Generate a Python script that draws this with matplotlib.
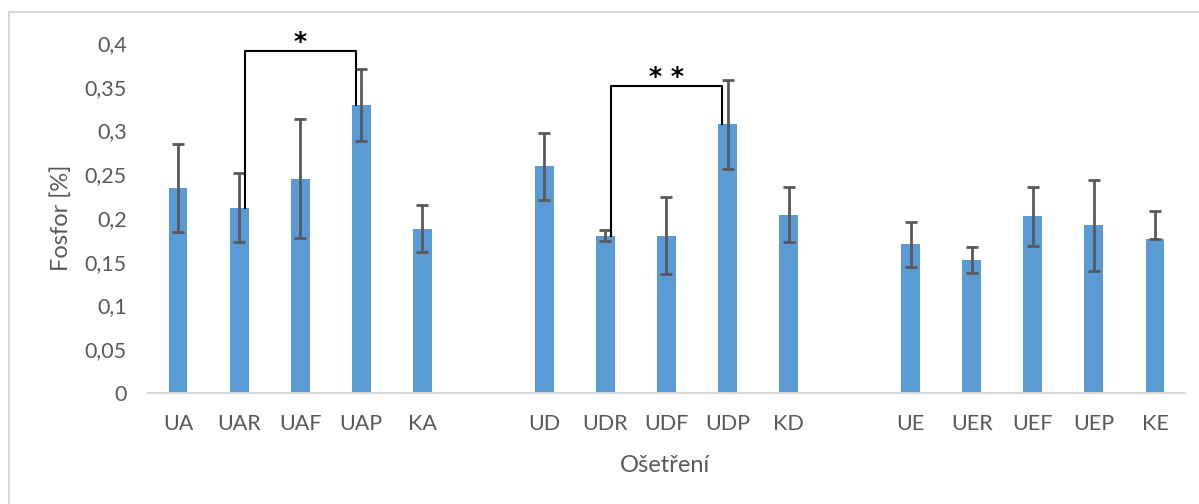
import numpy as np
import matplotlib
matplotlib.use("Agg")
import matplotlib.pyplot as plt
from matplotlib.lines import Line2D

plt.rcParams['font.family'] = ['Lato', 'DejaVu Sans']

# Data (three groups of five treatments)
groups = [
    ["UA", "UAR", "UAF", "UAP", "KA"],
    ["UD", "UDR", "UDF", "UDP", "KD"],
    ["UE", "UER", "UEF", "UEP", "KE"],
]
values = [
    [0.234, 0.212, 0.245, 0.329, 0.188],
    [0.259, 0.180, 0.180, 0.307, 0.204],
    [0.170, 0.152, 0.202, 0.192, 0.176],
]
err_low = [
    [0.050, 0.039, 0.068, 0.041, 0.027],
    [0.038, 0.006, 0.044, 0.051, 0.031],
    [0.026, 0.015, 0.034, 0.052, 0.000],
]
err_high = [
    [0.050, 0.039, 0.068, 0.041, 0.027],
    [0.038, 0.006, 0.044, 0.051, 0.031],
    [0.026, 0.015, 0.034, 0.052, 0.032],
]
# significance brackets: (left, right, label, bracket height)
brackets = [("UAR", "UAP", "*", 0.391), ("UDR", "UDP", "* *", 0.351)]

# flatten with one empty slot between groups
labels, vals, lo, hi, xs = [], [], [], [], []
pos = 0
for g, v, l, h in zip(groups, values, err_low, err_high):
    for name, a, b, c in zip(g, v, l, h):
        labels.append(name); vals.append(a); lo.append(b); hi.append(c); xs.append(pos)
        pos += 1
    pos += 1
xpos = dict(zip(labels, xs))
vmap = dict(zip(labels, vals))

fig = plt.figure(figsize=(11.99, 5.04), dpi=100)
ax = fig.add_axes([147.5 / 1199, 1 - 393 / 504, 1038 / 1199, 350 / 504])

ax.bar(xs, vals, width=0.31, color="#5B9BD5", zorder=2)
ax.errorbar(xs, vals, yerr=[lo, hi], fmt="none", ecolor="#595959",
            elinewidth=2, capsize=4.3, capthick=2, zorder=3)

gray = "#595959"
ax.set_xlim(-0.5, xs[-1] + 0.5)
ax.set_ylim(0, 0.4)
ax.set_yticks(np.arange(0, 0.401, 0.05))
ax.set_yticklabels([("%g" % t).replace(".", ",") for t in np.arange(0, 0.401, 0.05)])
ax.set_xticks(xs)
ax.set_xticklabels(labels)
ax.tick_params(axis="both", length=0, labelsize=15.5, colors=gray)
ax.tick_params(axis="y", pad=15)
ax.tick_params(axis="x", pad=15)
for s in ["top", "right", "left"]:
    ax.spines[s].set_visible(False)
ax.spines["bottom"].set_color("#d9d9d9")
ax.spines["bottom"].set_linewidth(1.5)

# significance brackets
for left, right, lab, top in brackets:
    x1 = xpos[left] + 0.09
    x2 = xpos[right] - 0.09
    ax.plot([x1, x1, x2, x2], [vmap[left], top, top, vmap[right]],
            color="black", lw=1.5, clip_on=False, zorder=4)
    ax.text((x1 + x2) / 2, top - 0.004, lab, ha="center", va="bottom",
            fontsize=18, fontweight="bold", family="DejaVu Sans",
            color="black", clip_on=False)

fig.text(61 / 1199, 1 - 218 / 504, "Fosfor [%]", rotation=90, ha="center",
         va="center", fontsize=17, color=gray)
fig.text(665 / 1199, 1 - 465 / 504, "Ošetření", ha="center", va="center",
         fontsize=17, color=gray)

# chart border (only top and left edges inside the picture)
x0, y0 = 9 / 1199, 1 - 12 / 504
fig.add_artist(Line2D([x0, 1.01], [y0, y0], color="#d9d9d9", lw=1.5, transform=fig.transFigure))
fig.add_artist(Line2D([x0, x0], [y0, -0.01], color="#d9d9d9", lw=1.5, transform=fig.transFigure))

fig.savefig("out.png", dpi=100)
